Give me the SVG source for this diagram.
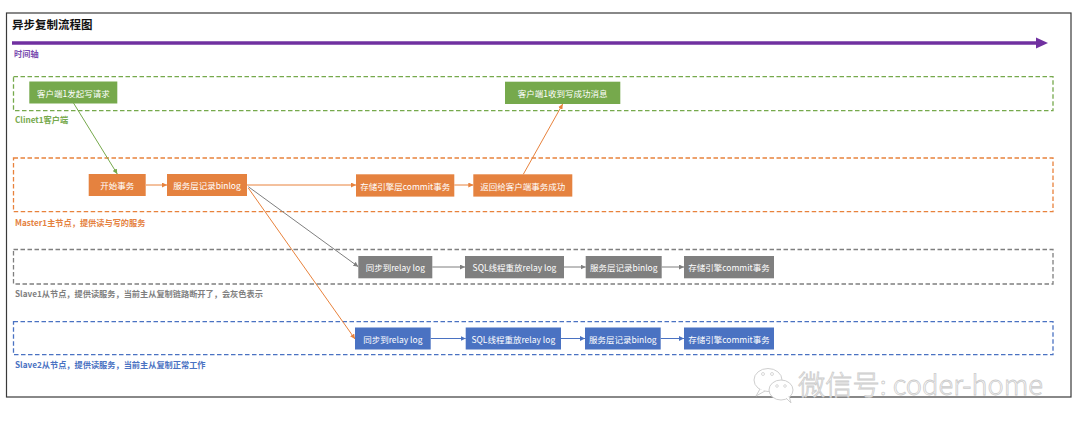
<svg xmlns="http://www.w3.org/2000/svg" width="1080" height="433" viewBox="0 0 1080 433">
<style>
text{font-family:"Noto Sans CJK SC","Noto Sans",sans-serif;}
.nt{fill:#fff;font-size:8.5px;text-anchor:middle;dominant-baseline:central;}
.lb{font-size:8.2px;font-weight:bold;dominant-baseline:central;}
.zone{fill:none;stroke-width:1.3;stroke-dasharray:4.5 2.5;}
.g{fill:#76a94c;}
.o{fill:#e5823f;}
.gr{fill:#7f7f7f;}
.b{fill:#4a72c2;}
.cg{stroke:#76a94c;stroke-width:1;fill:none;}
.co{stroke:#e8823c;stroke-width:1;fill:none;}
.cgr{stroke:#7f7f7f;stroke-width:1;fill:none;}
.cb{stroke:#4a72c2;stroke-width:1;fill:none;}
.wm{fill:#fff;stroke:#cfcfcf;stroke-width:1;}
</style>
<defs>
<marker id="ag" viewBox="0 0 10 10" refX="10" refY="5" markerWidth="5" markerHeight="5" orient="auto"><path d="M0,0 L10,5 L0,10 z" fill="#76a94c"/></marker>
<marker id="ao" viewBox="0 0 10 10" refX="10" refY="5" markerWidth="5" markerHeight="5" orient="auto"><path d="M0,0 L10,5 L0,10 z" fill="#e8823c"/></marker>
<marker id="agr" viewBox="0 0 10 10" refX="10" refY="5" markerWidth="5" markerHeight="5" orient="auto"><path d="M0,0 L10,5 L0,10 z" fill="#7f7f7f"/></marker>
<marker id="ab" viewBox="0 0 10 10" refX="10" refY="5" markerWidth="5" markerHeight="5" orient="auto"><path d="M0,0 L10,5 L0,10 z" fill="#4a72c2"/></marker>
</defs>
<rect width="1080" height="433" fill="#fff"/>
<rect x="6.5" y="13" width="1064.5" height="384" fill="#fff" stroke="#3a3a3a" stroke-width="1.2"/>
<text x="12" y="24" font-size="11.5" font-weight="bold" fill="#111" dominant-baseline="central">异步复制流程图</text>
<g id="timeline">
<line x1="12" y1="43" x2="1037" y2="43" stroke="#7030a0" stroke-width="3.5"/>
<polygon points="1036,37.5 1048,43 1036,48.5" fill="#7030a0"/>
<text x="14" y="52.7" class="lb" fill="#7a4db0" font-size="8.5">时间轴</text>
</g>
<g id="client-zone">
<rect x="13.5" y="76.7" width="1039.5" height="34" class="zone" stroke="#76a94c"/>
<text x="15" y="118.7" class="lb" fill="#76a94c">Clinet1客户端</text>
</g>
<g id="master-zone">
<rect x="13.5" y="158" width="1039.5" height="53.7" class="zone" stroke="#e8823c"/>
<text x="15" y="221.7" class="lb" fill="#e5823f">Master1主节点，提供读与写的服务</text>
</g>
<g id="slave1-zone">
<rect x="13.5" y="249.5" width="1039.5" height="34.5" class="zone" stroke="#7f7f7f"/>
<text x="15" y="292.5" class="lb" fill="#7f7f7f">Slave1从节点，提供读服务，当前主从复制链路断开了，会灰色表示</text>
</g>
<g id="slave2-zone">
<rect x="13.5" y="321.7" width="1039.5" height="33" class="zone" stroke="#4a72c2"/>
<text x="15" y="363.5" class="lb" fill="#4a72c2">Slave2从节点，提供读服务，当前主从复制正常工作</text>
</g>
<g id="connectors">
<line x1="73.3" y1="102.7" x2="117.3" y2="174" class="cg" marker-end="url(#ag)"/>
<line x1="146" y1="185" x2="167" y2="185" class="co" marker-end="url(#ao)"/>
<line x1="247" y1="185" x2="356" y2="185" class="co" marker-end="url(#ao)"/>
<line x1="454.3" y1="185" x2="473.3" y2="185" class="co" marker-end="url(#ao)"/>
<line x1="523.3" y1="174.3" x2="562.7" y2="104" class="co" marker-end="url(#ao)"/>
<line x1="248.3" y1="186.7" x2="358.3" y2="266.7" class="cgr" marker-end="url(#agr)"/>
<line x1="248.3" y1="188" x2="355" y2="339" class="co" marker-end="url(#ao)"/>
<line x1="432.3" y1="267" x2="465" y2="267" class="cgr" marker-end="url(#agr)"/>
<line x1="564" y1="267" x2="585.7" y2="267" class="cgr" marker-end="url(#agr)"/>
<line x1="661.7" y1="267" x2="684" y2="267" class="cgr" marker-end="url(#agr)"/>
<line x1="430.7" y1="338.5" x2="465.7" y2="338.5" class="cb" marker-end="url(#ab)"/>
<line x1="561" y1="338.5" x2="585" y2="338.5" class="cb" marker-end="url(#ab)"/>
<line x1="660.7" y1="338.5" x2="684" y2="338.5" class="cb" marker-end="url(#ab)"/>
</g>
<g id="n-client-req"><rect x="29.3" y="81.5" width="88" height="22" class="g"/><text x="73.3" y="92.5" class="nt">客户端1发起写请求</text></g>
<g id="n-client-ok"><rect x="505" y="81.7" width="115.3" height="22.3" class="g"/><text x="562.7" y="92.8" class="nt">客户端1收到写成功消息</text></g>
<g id="n-m-begin"><rect x="88.7" y="174" width="57" height="22" class="o"/><text x="117.2" y="185" class="nt">开始事务</text></g>
<g id="n-m-binlog"><rect x="167" y="174" width="80" height="22" class="o"/><text x="207" y="185" class="nt">服务层记录binlog</text></g>
<g id="n-m-commit"><rect x="356" y="174.3" width="98.3" height="22.3" class="o"/><text x="405.2" y="185.5" class="nt">存储引擎层commit事务</text></g>
<g id="n-m-return"><rect x="473.3" y="174.3" width="99" height="22.3" class="o"/><text x="522.8" y="185.5" class="nt">返回给客户端事务成功</text></g>
<g id="n-s1-relay"><rect x="358.3" y="256" width="74" height="22.3" class="gr"/><text x="395.3" y="267.2" class="nt">同步到relay log</text></g>
<g id="n-s1-sql"><rect x="465" y="256" width="99" height="22.3" class="gr"/><text x="514.5" y="267.2" class="nt">SQL线程重放relay log</text></g>
<g id="n-s1-binlog"><rect x="585.7" y="256" width="76" height="22.3" class="gr"/><text x="623.7" y="267.2" class="nt">服务层记录binlog</text></g>
<g id="n-s1-commit"><rect x="684" y="256" width="90" height="22.3" class="gr"/><text x="729" y="267.2" class="nt">存储引擎commit事务</text></g>
<g id="n-s2-relay"><rect x="355" y="327.5" width="75.7" height="22" class="b"/><text x="392.8" y="338.5" class="nt">同步到relay log</text></g>
<g id="n-s2-sql"><rect x="465.7" y="327.5" width="95.3" height="22" class="b"/><text x="513.3" y="338.5" class="nt">SQL线程重放relay log</text></g>
<g id="n-s2-binlog"><rect x="585" y="327.5" width="75.7" height="22" class="b"/><text x="622.8" y="338.5" class="nt">服务层记录binlog</text></g>
<g id="n-s2-commit"><rect x="684" y="327.5" width="90" height="22" class="b"/><text x="729" y="338.5" class="nt">存储引擎commit事务</text></g>
<g id="watermark">
<ellipse cx="768" cy="380" rx="14" ry="11.5" class="wm"/>
<path d="M760,389 L756,396 L765,391" class="wm"/>
<ellipse cx="781" cy="390" rx="12" ry="10" class="wm"/>
<path d="M786,398 L791,403 L789,396" class="wm"/>
<circle cx="763" cy="374" r="1.5" fill="none" stroke="#cfcfcf" stroke-width="0.8"/>
<circle cx="772" cy="374" r="1.5" fill="none" stroke="#cfcfcf" stroke-width="0.8"/>
<circle cx="777" cy="386" r="1.3" fill="none" stroke="#cfcfcf" stroke-width="0.8"/>
<circle cx="785" cy="386" r="1.3" fill="none" stroke="#cfcfcf" stroke-width="0.8"/>
<text x="798" y="395" font-size="27" fill="#fff" stroke="#cccccc" stroke-width="0.8" font-weight="300" textLength="245" lengthAdjust="spacingAndGlyphs">微信号: coder-home</text>
</g>
</svg>
